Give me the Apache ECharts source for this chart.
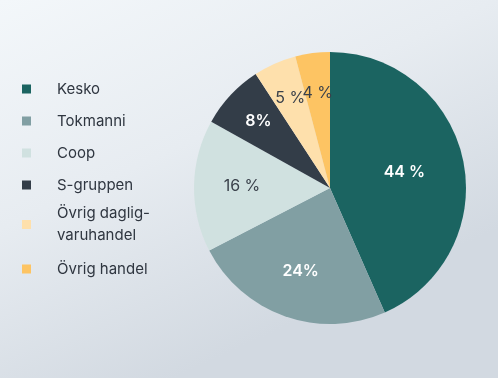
<!DOCTYPE html>
<html>
<head>
<meta charset="utf-8">
<style>
html, body { margin: 0; padding: 0; }
#chart { width: 498px; height: 378px; }
</style>
<script src="https://cdn.jsdelivr.net/npm/echarts@6/dist/echarts.min.js"></script>
</head>
<body>
<div id="chart"></div>
<script>
// andelar (läst från bilden)
var names = ['Kesko', 'Tokmanni', 'Coop', 'S-gruppen', 'Övrig dagligvaruhandel', 'Övrig handel']
var values = [43.4, 24.0, 15.7, 7.7, 5.1, 4.1]
var labelTexts = ['44 %', '24%', '16 %', '8%', '5 %', '4 %']

var colors = ['#1b6461', '#819fa3', '#d0e1e0', '#333d48', '#fee0ac', '#fdc463']
var darkText = '#3a414b'
var font = 'Inter, "Noto Sans", sans-serif'

var chart = echarts.init(document.getElementById('chart'))

var pieData = []
for (var i = 0; i < names.length; i++) {
    pieData.push({ name: names[i], value: values[i] })
}

// labels sit at different distances from the centre -> one transparent ring per group
// (5 % and 4 % touch each other, so they get separate rings or one gets hidden)
function labelSeries(r0, idx) {
    var d = []
    for (var i = 0; i < names.length; i++) {
        var light = (i == 2 || i == 4 || i == 5)
        d.push({
            name: names[i],
            value: values[i],
            label: {
                show: idx.indexOf(i) >= 0,
                formatter: labelTexts[i],
                color: light ? darkText : '#ffffff',
                fontWeight: light ? 'normal' : 600
            }
        })
    }
    return {
        type: 'pie',
        center: [330, 188],
        radius: [r0, 136],
        silent: true,
        legendHoverLink: false,
        itemStyle: { color: 'rgba(0,0,0,0)' },
        label: { position: 'inside', fontSize: 16, fontFamily: font },
        labelLine: { show: false },
        labelLayout: { hideOverlap: false },
        emphasis: { disabled: true },
        animation: false,
        data: d
    }
}

var legendText = {
    color: '#2f3640',
    fontSize: 15,
    fontFamily: font,
    lineHeight: 22,
    padding: [0, 0, 0, 21]
}

var option = {
    backgroundColor: {
        type: 'linear', x: 0, y: 0, x2: 0.35, y2: 1,
        colorStops: [
            { offset: 0, color: '#f3f7fa' },
            { offset: 0.5, color: '#e7ecf1' },
            { offset: 1, color: '#d2d9e1' }
        ]
    },
    color: colors,
    legend: [
        {
            orient: 'vertical',
            left: 22,
            top: 78,
            padding: 0,
            icon: 'rect',
            itemWidth: 9,
            itemHeight: 9,
            itemGap: 10,
            selectedMode: false,
            textStyle: legendText,
            formatter: function (n) {
                return n == 'Övrig dagligvaruhandel' ? 'Övrig daglig-\nvaruhandel' : n
            },
            data: [names[0], names[1], names[2], names[3],
                { name: names[4], textStyle: { height: 22 } }]
        },
        {
            orient: 'vertical',
            left: 22,
            top: 258,
            padding: 0,
            icon: 'rect',
            itemWidth: 9,
            itemHeight: 9,
            selectedMode: false,
            textStyle: legendText,
            data: [names[5]]
        }
    ],
    series: [
        {
            name: 'andel',
            type: 'pie',
            center: [330, 188],
            radius: [0, 136],
            label: { show: false },
            labelLine: { show: false },
            emphasis: { disabled: true },
            animation: false,
            data: pieData
        },
        labelSeries(10, [0]),
        labelSeries(34, [1, 2]),
        labelSeries(54, [3, 4]),
        labelSeries(50, [5])
    ]
}

chart.setOption(option)
</script>
</body>
</html>
